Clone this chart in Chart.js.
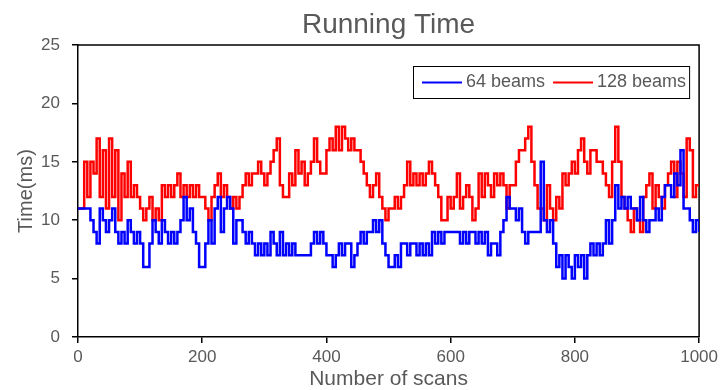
<!DOCTYPE html>
<html>
<head>
<meta charset="utf-8">
<title>Running Time</title>
<script src="https://cdn.jsdelivr.net/npm/chart.js@4"></script>
<style>
  html, body { margin: 0; padding: 0; background: #fff; }
  #wrap { width: 722px; height: 390px; position: relative; }
</style>
</head>
<body>
<div id="wrap"><canvas id="chartRun"></canvas></div>
<script>
// one sample every 5 scans
const scanStep = 5;

const beams64 = [
  11, 11, 11, 11, 10, 9, 8, 11, 10, 9, 10, 11, 9, 8, 9, 8, 10, 9, 8, 9, 8, 6, 6, 8, 10, 9, 8, 10, 9, 8, 9, 8, 9, 10,
  12, 10, 11, 9, 8, 6, 6, 8, 10, 8, 11, 12, 9, 11, 12, 11, 8, 10, 10, 9, 8, 9, 8, 7, 8, 7, 8, 7, 9, 8, 7, 9, 7,
  8, 7, 8, 7, 7, 7, 7, 7, 8, 9, 8, 9, 8, 7, 7, 6, 7, 8, 7, 8, 8, 6, 7, 8, 9, 8, 9, 9, 10, 9, 10, 8, 7, 6,
  6, 7, 6, 8, 8, 7, 8, 8, 7, 8, 7, 8, 7, 9, 8, 9, 8, 9, 9, 9, 9, 9, 8, 9, 8, 9, 9, 8, 9, 8, 9, 7, 8,
  8, 7, 9, 10, 12, 11, 11, 10, 11, 9, 8, 9, 9, 9, 9, 15, 10, 9, 10, 8, 6, 7, 5, 7, 6, 5, 7, 6, 7, 5, 7, 8, 7, 8,
  7, 8, 10, 8, 10, 13, 11, 12, 11, 12, 11, 11, 10, 12, 10, 9, 10, 10, 11, 10, 12, 13, 13, 12, 14, 13, 16, 11, 11, 10, 9, 10, 9
];

const beams128 = [
  11, 11, 15, 12, 15, 14, 17, 12, 16, 11, 17, 12, 16, 10, 14, 12, 15, 12, 13, 12, 11, 10, 11, 12, 10, 11, 10, 13, 12, 13, 12, 13, 14, 12,
  13, 12, 13, 12, 13, 12, 12, 11, 10, 12, 13, 14, 12, 13, 12, 11, 12, 11, 12, 13, 14, 13, 14, 14, 15, 14, 13, 14, 15, 16, 17, 13, 12,
  12, 14, 13, 16, 14, 15, 13, 14, 15, 17, 15, 14, 14, 16, 17, 16, 18, 16, 18, 17, 16, 17, 16, 16, 15, 14, 13, 12, 13, 14, 12, 11, 10, 11,
  11, 12, 11, 12, 13, 15, 13, 14, 13, 14, 13, 14, 15, 14, 13, 12, 10, 10, 12, 11, 12, 14, 11, 12, 13, 12, 10, 11, 14, 12, 14, 13, 12,
  14, 13, 14, 13, 11, 13, 13, 15, 16, 16, 17, 18, 15, 13, 11, 11, 10, 13, 11, 10, 12, 11, 14, 13, 14, 15, 14, 16, 17, 15, 14, 16, 16, 15,
  15, 14, 13, 12, 15, 18, 15, 12, 11, 10, 9, 11, 10, 9, 12, 13, 14, 11, 13, 12, 11, 13, 14, 15, 12, 15, 14, 12, 17, 16, 12, 13, 13
];

const seriesNames = ["64 beams", "128 beams"];
const seriesColors = ["#0000ff", "#ff0000"];
const xTicks = [0, 200, 400, 600, 800, 1000];
const yTicks = [0, 5, 10, 15, 20, 25];

const textColor = "#595959";
const fontFamily = '"Liberation Sans", Arial, Helvetica, sans-serif';
Chart.defaults.font.family = fontFamily;

function toPoints(values) {
  return values.map((v, i) => ({ x: i * scanStep, y: v }));
}

// top and right edges of the plot frame
const frame = {
  id: "frame",
  beforeDatasetsDraw(chart) {
    const { ctx, chartArea: a } = chart;
    ctx.save();
    ctx.strokeStyle = "#000";
    ctx.lineWidth = 1.5;
    ctx.beginPath();
    ctx.moveTo(a.left, a.top);
    ctx.lineTo(a.right, a.top);
    ctx.lineTo(a.right, a.bottom);
    ctx.stroke();
    ctx.restore();
  }
};

// boxed legend inside the plot, top right
const boxLegend = {
  id: "boxLegend",
  afterDatasetsDraw(chart) {
    const { ctx, chartArea: a } = chart;
    ctx.save();
    ctx.font = "18px " + fontFamily;
    const items = chart.data.datasets.map((ds) => ({
      label: ds.label,
      color: ds.borderColor,
      w: ctx.measureText(ds.label).width
    }));
    const sample = 40, gap = 4, space = 8, padL = 9, padR = 3, h = 32;
    let width = padL + padR + space * (items.length - 1);
    for (const it of items) width += sample + gap + it.w;
    const right = a.right - 10;
    const left = Math.round(right - width);
    const top = Math.round(a.top + 21);

    ctx.fillStyle = "#fff";
    ctx.fillRect(left, top, width, h);
    ctx.strokeStyle = "#000";
    ctx.lineWidth = 1;
    ctx.strokeRect(left + 0.5, top + 0.5, width, h);

    const mid = top + h / 2 + 0.5;
    let x = left + padL;
    ctx.textBaseline = "middle";
    ctx.textAlign = "left";
    for (const it of items) {
      ctx.strokeStyle = it.color;
      ctx.lineWidth = 2;
      ctx.beginPath();
      ctx.moveTo(x, mid);
      ctx.lineTo(x + sample, mid);
      ctx.stroke();
      x += sample + gap;
      ctx.fillStyle = textColor;
      ctx.fillText(it.label, x, mid);
      x += it.w + space;
    }
    ctx.restore();
  }
};

const ctx = document.getElementById("chartRun");
new Chart(ctx, {
  type: "line",
  data: {
    datasets: [
      {
        label: seriesNames[0],
        data: toPoints(beams64),
        borderColor: seriesColors[0],
        backgroundColor: seriesColors[0],
        borderWidth: 2.5,
        pointRadius: 0,
        stepped: true,
        fill: false
      },
      {
        label: seriesNames[1],
        data: toPoints(beams128),
        borderColor: seriesColors[1],
        backgroundColor: seriesColors[1],
        borderWidth: 2.5,
        pointRadius: 0,
        stepped: true,
        fill: false
      }
    ]
  },
  options: {
    responsive: true,
    maintainAspectRatio: false,
    animation: false,
    layout: { padding: { left: 0, right: 22, top: 0, bottom: 0 } },
    plugins: {
      legend: { display: false },
      tooltip: { enabled: false },
      title: {
        display: true,
        text: "Running Time",
        color: textColor,
        fullSize: false,
        font: { size: 28, weight: "normal", lineHeight: 1.2 },
        padding: { top: 8, bottom: 3.5 }
      }
    },
    scales: {
      x: {
        type: "linear",
        min: 0,
        max: 1000,
        afterBuildTicks: (s) => { s.ticks = xTicks.map((v) => ({ value: v })); },
        afterFit: (s) => { s.height = 53; },
        ticks: {
          color: textColor,
          font: { size: 17 },
          padding: 4,
          maxRotation: 0,
          callback: (v) => String(v)
        },
        grid: { drawOnChartArea: false, tickLength: 6, color: "#000", lineWidth: 1.5 },
        border: { color: "#000", width: 1.5 },
        title: {
          display: true,
          text: "Number of scans",
          color: textColor,
          font: { size: 21, lineHeight: 1 },
          padding: { top: 0, bottom: 0 }
        }
      },
      y: {
        min: 0,
        max: 25,
        afterBuildTicks: (s) => { s.ticks = yTicks.map((v) => ({ value: v })); },
        afterFit: (s) => { s.width = 78; },
        ticks: {
          color: textColor,
          font: { size: 17 },
          padding: 12,
          callback: (v) => String(v)
        },
        grid: { drawOnChartArea: false, tickLength: 6, color: "#000", lineWidth: 1.5 },
        border: { color: "#000", width: 1.5 },
        title: {
          display: true,
          text: "Time(ms)",
          color: textColor,
          font: { size: 20, lineHeight: 1.2 },
          padding: { top: 14, bottom: 0 }
        }
      }
    }
  },
  plugins: [frame, boxLegend]
});
</script>
</body>
</html>
